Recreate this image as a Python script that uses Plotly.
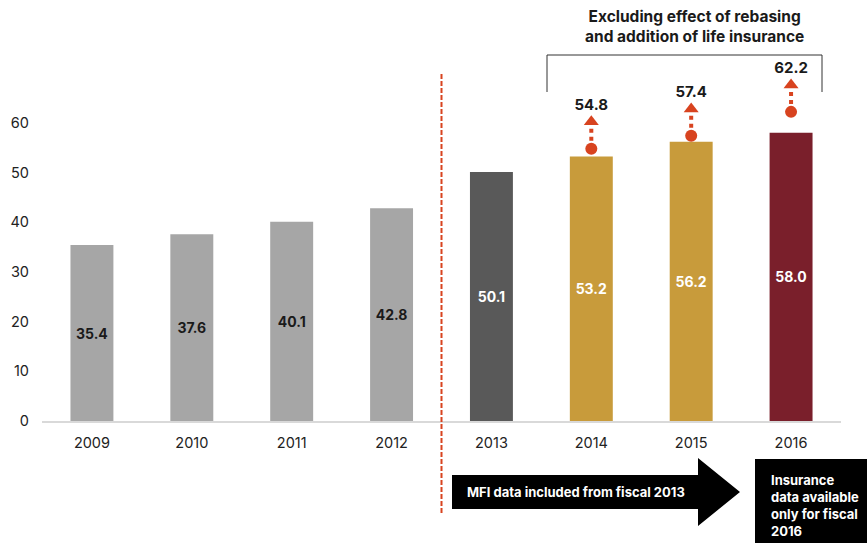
import plotly.graph_objects as go

years = ["2009", "2010", "2011", "2012", "2013", "2014", "2015", "2016"]
values = [35.4, 37.6, 40.1, 42.8, 50.1, 53.2, 56.2, 58.0]
bar_colors = ["#a6a6a6", "#a6a6a6", "#a6a6a6", "#a6a6a6", "#595959", "#c89b3b", "#c89b3b", "#7a1f2b"]
label_colors = ["#1a1a1a", "#1a1a1a", "#1a1a1a", "#1a1a1a", "#ffffff", "#ffffff", "#ffffff", "#ffffff"]

adj_years = ["2014", "2015", "2016"]
adj_values = [54.8, 57.4, 62.2]

yticks = [0, 10, 20, 30, 40, 50, 60]

RED = "#d8431f"
FONT = "Inter, Roboto, Arial, sans-serif"

W, H = 867, 543
# screen-pixel geometry of the plot area
S_LEFT, S_RIGHT, S_TOP, S_Y0 = 42, 841, 0, 421
ML = S_LEFT
MR = W - S_RIGHT
MT = 0
MB = H - S_Y0
PW = W - ML - MR
PH = H - MT - MB
PX_PER_UNIT = 4.97


def px(x):
    return (x - S_LEFT) / PW


def py(y):
    return (S_Y0 - y) / PH


fig = go.Figure()

fig.add_trace(go.Bar(
    x=years, y=values, width=0.43,
    marker=dict(color=bar_colors, line=dict(width=0)),
    text=[f"{v:.1f}" for v in values],
    textposition="inside", insidetextanchor="middle",
    textfont=dict(family=FONT, size=14, color=label_colors, weight="bold"),
    textangle=0, hoverinfo="skip", showlegend=False,
))

# dotted arrow shafts
for yr, v in zip(adj_years, adj_values):
    fig.add_trace(go.Scatter(
        x=[yr, yr], y=[v + 1.6, v + 4.6], mode="lines",
        line=dict(color=RED, width=4, dash="dot"),
        hoverinfo="skip", showlegend=False,
    ))

# arrow heads
fig.add_trace(go.Scatter(
    x=adj_years, y=[v + 5.4 for v in adj_values], mode="markers",
    marker=dict(symbol="triangle-up", size=13, color=RED, line=dict(width=0)),
    hoverinfo="skip", showlegend=False,
))

# dots
fig.add_trace(go.Scatter(
    x=adj_years, y=adj_values, mode="markers",
    marker=dict(symbol="circle", size=12, color=RED, line=dict(width=0)),
    hoverinfo="skip", showlegend=False,
))

# labels
fig.add_trace(go.Scatter(
    x=adj_years, y=[v + 8.6 for v in adj_values], mode="text",
    text=[f"{v:.1f}" for v in adj_values],
    textfont=dict(family=FONT, size=15, color="#1a1a1a", weight="bold"),
    textposition="middle center",
    hoverinfo="skip", showlegend=False,
))

shapes = []
# vertical dashed separator between 2012 and 2013
shapes.append(dict(type="line", xref="x", yref="paper", x0=3.5, x1=3.5,
                   y0=py(74), y1=py(515),
                   line=dict(color=RED, width=2, dash="5px,2px")))
# bracket
shapes.append(dict(type="path", xref="paper", yref="paper",
                   path=f"M {px(547)},{py(92)} L {px(547)},{py(55)} L {px(822)},{py(55)} L {px(822)},{py(92)}",
                   line=dict(color="#333333", width=1)))
# black arrow
pts = [(452, 475), (698, 475), (698, 458), (740, 492), (698, 526), (698, 509), (452, 509)]
path = "M " + " L ".join(f"{px(a)},{py(b)}" for a, b in pts) + " Z"
shapes.append(dict(type="path", xref="paper", yref="paper", path=path,
                   fillcolor="#000000", line=dict(width=0)))
# black box
shapes.append(dict(type="rect", xref="paper", yref="paper",
                   x0=px(755), x1=px(870), y0=py(459), y1=py(546),
                   fillcolor="#000000", line=dict(width=0)))

annotations = [
    dict(xref="paper", yref="paper", x=px(694), y=py(27),
         text="Excluding effect of rebasing<br>and addition of life insurance",
         showarrow=False, align="center", xanchor="center", yanchor="middle",
         font=dict(family=FONT, size=15.5, color="#1a1a1a", weight="bold")),
    dict(xref="paper", yref="paper", x=px(576), y=py(492),
         text="MFI data included from fiscal 2013",
         showarrow=False, xanchor="center", yanchor="middle",
         font=dict(family=FONT, size=13, color="#ffffff", weight="bold")),
    dict(xref="paper", yref="paper", x=px(769), y=py(505),
         text="Insurance<br>data available<br>only for fiscal<br>2016",
         showarrow=False, align="left", xanchor="left", yanchor="middle",
         font=dict(family=FONT, size=13, color="#ffffff", weight="bold")),
]

fig.update_layout(
    width=W, height=H,
    margin=dict(l=ML, r=MR, t=MT, b=MB, pad=0),
    paper_bgcolor="white", plot_bgcolor="white",
    font=dict(family=FONT, color="#222222"),
    shapes=shapes, annotations=annotations,
    bargap=0.57,
    hovermode=False,
    xaxis=dict(type="category", categoryorder="array", categoryarray=years,
               range=[-0.5, 7.5], showgrid=False, zeroline=False,
               showline=True, linecolor="#d9d9d9", linewidth=1.5,
               ticks="", tickfont=dict(family=FONT, size=14.5, color="#222222"),
               ticklabelstandoff=8, fixedrange=True),
    yaxis=dict(range=[0, S_Y0 / PX_PER_UNIT], tickvals=yticks,
               ticktext=[str(t) for t in yticks],
               showgrid=False, zeroline=False, showline=False, ticks="",
               tickfont=dict(family=FONT, size=14.5, color="#222222"),
               ticklabelstandoff=12, fixedrange=True),
)

fig.write_html(
    "out.html",
    config={"displayModeBar": False, "staticPlot": True},
    post_script="document.body.style.margin='0';document.body.style.overflow='hidden';",
)
